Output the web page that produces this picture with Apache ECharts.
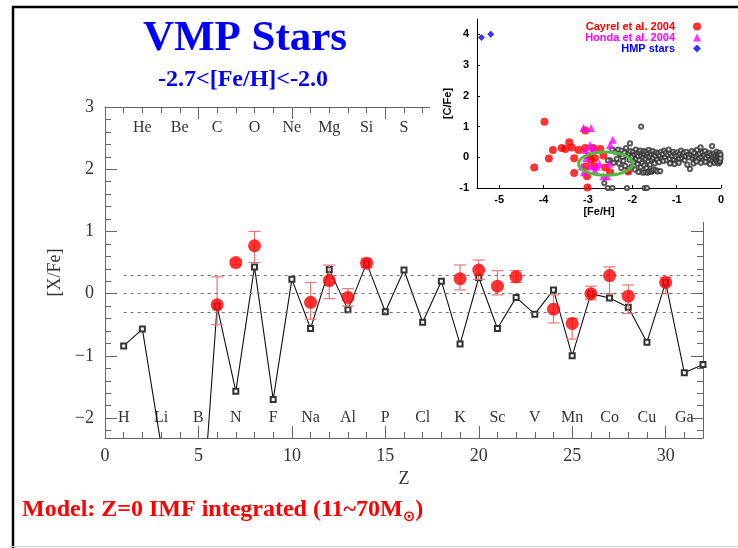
<!DOCTYPE html>
<html>
<head>
<meta charset="utf-8">
<title>VMP Stars</title>
<script src="https://cdn.jsdelivr.net/npm/echarts@6/dist/echarts.min.js"></script>
<style>
  html, body { margin: 0; padding: 0; background: #fff; }
  #chart { width: 738px; height: 548px; }
</style>
</head>
<body>
<div id="chart"></div>
<script>
// ---------- Main panel: [X/Fe] against atomic number Z ----------
// Z=0 IMF-integrated yields (11-70 Msun), one value per element
const modelZ   = [1, 2, 3, 4, 5, 6, 7, 8, 9, 10, 11, 12, 13, 14, 15, 16,
                  17, 18, 19, 20, 21, 22, 23, 24, 25, 26, 27, 28, 29, 30, 31, 32];
const modelXFe = [-0.84, -0.57, -2.43, -4.6, -4.4, -0.20, -1.57, 0.43, -1.70, 0.23, -0.56, 0.39, -0.26, 0.49, -0.29, 0.38,
                  -0.46, 0.20, -0.81, 0.26, -0.56, -0.06, -0.33, 0.06, -1.00, 0.00, -0.07, -0.22, -0.78, 0.18, -1.27, -1.14];

// Mean abundances of very metal-poor stars with their error ranges
const obsZ    = [6, 7, 8, 11, 12, 13, 14, 19, 20, 21, 22, 24, 25, 26, 27, 28, 30];
const obsXFe  = [-0.18, 0.50, 0.77, -0.14, 0.21, -0.06, 0.49, 0.24, 0.38, 0.12, 0.27, -0.25, -0.48, 0.00, 0.29, -0.04, 0.18];
const obsLow  = [-0.50, 0.46, 0.50, -0.41, -0.08, -0.20, 0.42, 0.06, 0.23, -0.02, 0.18, -0.47, -0.73, -0.10, 0.00, -0.32, 0.00];
const obsHigh = [0.27, 0.54, 1.00, 0.18, 0.46, 0.08, 0.56, 0.46, 0.54, 0.37, 0.37, -0.02, -0.40, 0.12, 0.43, 0.14, 0.26];

// Element symbols written along the top and bottom of the panel
const topElements    = ['He', 'Be', 'C', 'O', 'Ne', 'Mg', 'Si', 'S'];
const topElementZ    = [2, 4, 6, 8, 10, 12, 14, 16];
const bottomElements = ['H', 'Li', 'B', 'N', 'F', 'Na', 'Al', 'P', 'Cl', 'K', 'Sc', 'V', 'Mn', 'Co', 'Cu', 'Ga'];
const bottomElementZ = [1, 3, 5, 7, 9, 11, 13, 15, 17, 19, 21, 23, 25, 27, 29, 31];

// Dotted guide levels
const refLevels = [0.3, 0, -0.3];

// Tick values
const zTickValues   = [0, 5, 10, 15, 20, 25, 30];
const xfeTickValues = [-2, -1, 0, 1, 2, 3];

// ---------- Inset: [C/Fe] against [Fe/H] ----------
const cayrelFeH = [-4.21, -3.98, -3.88, -3.79, -3.59, -3.51, -3.42, -3.36, -3.31, -3.31, -3.21, -3.06, -3.06,
                   -3.01, -3.02, -3.05, -2.97, -2.88, -2.84, -2.85, -2.72, -2.65, -2.61, -2.50, -2.09, -2.93];
const cayrelCFe = [-0.33, 1.16, -0.04, 0.24, 0.30, 0.27, 0.49, 0.32, -0.03, -0.51, 0.24, 0.30, 0.87,
                   -0.98, -0.62, -0.30, 0.03, 0.30, -0.03, -0.30, 0.27, 0.06, -0.33, -0.49, -0.46, -0.10];

const hondaFeH = [-3.10, -2.93, -3.06, -2.95, -2.88, -3.04, -2.94, -2.80, -2.84, -3.09, -2.74, -2.65, -2.57, -2.52, -2.50, -2.44, -3.14];
const hondaCFe = [0.95, 0.95, 0.24, 0.40, 0.30, -0.03, -0.30, -0.30, -0.43, -0.49, -0.21, -0.62, -0.62, -0.21, 0.40, 0.57, -0.30];

const hmpFeH = [-5.40, -5.19];
const hmpCFe = [3.90, 4.00];

// Other halo stars, [Fe/H], [C/Fe]
const otherStars = [
  [-2.38, 0.18], [-2.35, -0.05], [-2.32, 0.25], [-2.30, -0.20], [-2.28, 0.10], [-2.25, -0.35], [-2.24, 0.22],
  [-2.22, 0.00], [-2.20, -0.12], [-2.18, 0.15], [-2.16, -0.28], [-2.14, 0.30], [-2.12, 0.05], [-2.10, -0.45],
  [-2.08, 0.12], [-2.06, -0.08], [-2.05, 0.45], [-2.04, 0.20], [-2.02, -0.30], [-2.00, 0.02], [-1.98, 0.18],
  [-1.97, -0.15], [-1.95, 0.08], [-1.94, -0.40], [-1.92, 0.25], [-1.91, -0.05], [-1.90, 0.12], [-1.88, -0.22],
  [-1.87, 0.04], [-1.86, -0.48], [-1.85, 0.16], [-1.84, -0.10], [-1.82, 0.22], [-1.81, -0.32], [-1.80, 1.00],
  [-1.80, 0.06], [-1.78, -0.18], [-1.77, 0.14], [-1.76, -0.50], [-1.75, 0.00], [-1.74, 0.20], [-1.73, -0.26],
  [-1.72, 0.10], [-1.71, -0.48], [-1.70, -0.06], [-1.69, 0.18], [-1.68, -0.35], [-1.67, 0.05], [-1.66, -0.50],
  [-1.65, 0.12], [-1.64, -0.14], [-1.63, 0.24], [-1.62, -0.46], [-1.61, 0.02], [-1.60, -0.24], [-1.59, 0.15],
  [-1.58, -0.48], [-1.57, 0.08], [-1.56, -0.10], [-1.55, -0.44], [-1.54, 0.20], [-1.53, -0.02], [-1.52, -0.40],
  [-1.51, 0.10], [-1.50, -0.20], [-1.48, 0.05], [-1.47, -0.42], [-1.46, 0.16], [-1.44, -0.08], [-1.43, -0.46],
  [-1.42, 0.12], [-1.40, -0.16], [-1.38, 0.06], [-1.37, -0.45], [-1.35, 0.18], [-1.33, -0.04], [-1.31, 0.10],
  [-1.30, -0.12], [-1.28, 0.22], [-1.26, 0.00], [-1.24, 0.14], [-1.22, -0.10], [-1.20, 0.08], [-1.18, 0.25],
  [-1.16, -0.05], [-1.14, 0.12], [-1.12, -0.18], [-1.10, 0.04], [-1.08, 0.18], [-1.06, -0.08], [-1.04, 0.10],
  [-1.02, 0.02], [-1.00, -0.14], [-0.98, 0.16], [-0.96, 0.06], [-0.94, -0.06], [-0.92, 0.12], [-0.90, 0.22],
  [-0.88, -0.02], [-0.86, 0.08], [-0.84, 0.14], [-0.82, -0.10], [-0.80, 0.04], [-0.78, 0.18], [-0.76, -0.24],
  [-0.74, 0.08], [-0.72, 0.00], [-0.70, -0.38], [-0.68, 0.10], [-0.66, 0.20], [-0.64, -0.04], [-0.62, 0.06],
  [-0.60, 0.14], [-0.58, -0.12], [-0.56, 0.02], [-0.54, 0.24], [-0.52, 0.08], [-0.50, -0.06], [-0.48, 0.12],
  [-0.46, 0.32], [-0.44, 0.00], [-0.42, 0.16], [-0.40, -0.10], [-0.38, 0.06], [-0.36, 0.20], [-0.34, -0.02],
  [-0.32, 0.10], [-0.30, -0.14], [-0.28, 0.04], [-0.26, 0.14], [-0.24, -0.08], [-0.22, 0.08], [-0.20, 0.36],
  [-0.19, -0.12], [-0.18, 0.02], [-0.16, 0.12], [-0.15, -0.18], [-0.14, -0.04], [-0.12, 0.06], [-0.11, -0.10],
  [-0.10, 0.18], [-0.09, -0.14], [-0.08, 0.00], [-0.07, 0.10], [-0.06, -0.20], [-0.05, 0.04], [-0.04, -0.08],
  [-0.03, 0.14], [-0.03, -0.16], [-0.02, 0.02], [-0.02, -0.12], [-0.01, 0.08], [-0.01, -0.04], [-0.45, -0.18],
  [-0.62, -0.20], [-0.35, -0.15], [-0.25, -0.22], [-0.55, -0.14], [-1.05, -0.22], [-0.95, -0.18], [-1.15, -0.20],
  [-2.55, -1.00], [-2.45, -1.00], [-2.12, -1.00], [-1.72, -1.00], [-1.67, -1.00], [-2.63, -0.84], [-2.50, -0.10],
  [-2.45, 0.25], [-2.42, -0.18], [-2.55, -0.10]
];

// Highlighted region: centre [Fe/H], centre [C/Fe], half-width, half-height (data units)
const highlightRegion = [-2.6, -0.21, 0.61, 0.38];

const insetXTicks = [-5, -4, -3, -2, -1, 0];
const insetYTicks = [-1, 0, 1, 2, 3, 4];

// ---------- helpers ----------
const SERIF = "'Liberation Serif', 'DejaVu Serif', serif";
const SANS = "'Liberation Sans', Arial, sans-serif";
const FRAME = '#666';

function range(a, b, step) {
  const out = [];
  for (let v = a; v <= b + 1e-9; v += step) out.push(Math.round(v * 100) / 100);
  return out;
}
const zMinorTicks = range(0, 32, 1);
const xfeMinorTicks = range(-2.2, 3, 0.2);

const minusFmt = v => (v < 0 ? '\u2212' + Math.abs(v) : String(v));
const pairs = (xs, ys) => xs.map((x, i) => [x, ys[i]]);

function mainX(position, ticks, len, withLabels, withLine) {
  return {
    gridIndex: 0, type: 'value', min: 0, max: 32, position,
    axisLine: { show: withLine, onZero: false, lineStyle: { color: FRAME, width: 1 } },
    axisTick: { show: true, inside: true, length: len, customValues: ticks, lineStyle: { color: FRAME, width: 1 } },
    axisLabel: withLabels
      ? { show: true, customValues: zTickValues, fontFamily: SERIF, fontSize: 18, color: '#333', margin: 9 }
      : { show: false },
    splitLine: { show: false },
    axisPointer: { show: false }
  };
}
function mainY(position, ticks, len, withLabels, withLine) {
  return {
    gridIndex: 0, type: 'value', min: -2.32, max: 3, position,
    axisLine: { show: withLine, onZero: false, lineStyle: { color: FRAME, width: 1 } },
    axisTick: { show: true, inside: true, length: len, customValues: ticks, lineStyle: { color: FRAME, width: 1 } },
    axisLabel: withLabels
      ? { show: true, customValues: xfeTickValues, formatter: minusFmt, fontFamily: SERIF, fontSize: 18, color: '#333', margin: 11 }
      : { show: false },
    splitLine: { show: false }
  };
}

const xAxes = [
  Object.assign(mainX('bottom', zTickValues, 12, true, true), {
    name: 'Z', nameLocation: 'middle', nameGap: 32,
    nameTextStyle: { fontFamily: SERIF, fontSize: 18, color: '#333' }
  }),
  mainX('bottom', zMinorTicks, 6, false, false),
  mainX('top', zTickValues, 12, false, true),
  mainX('top', zMinorTicks, 6, false, false),
  {
    gridIndex: 1, type: 'value', min: -5.5, max: 0, position: 'bottom', z: 10,
    axisLine: { show: true, onZero: false, lineStyle: { color: '#000', width: 1 } },
    axisTick: { show: true, inside: true, length: 3, customValues: insetXTicks, lineStyle: { color: '#000' } },
    axisLabel: { customValues: insetXTicks, fontFamily: SANS, fontWeight: 'bold', fontSize: 11, color: '#000', margin: 6 },
    splitLine: { show: false },
    name: '[Fe/H]', nameLocation: 'middle', nameGap: 18,
    nameTextStyle: { fontFamily: SANS, fontWeight: 'bold', fontSize: 11, color: '#000' }
  }
];

const yAxes = [
  Object.assign(mainY('left', xfeTickValues, 12, true, true), {
    name: '[X/Fe]', nameLocation: 'middle', nameGap: 32, nameRotate: 90,
    nameTextStyle: { fontFamily: SERIF, fontSize: 18, color: '#333' }
  }),
  mainY('left', xfeMinorTicks, 6, false, false),
  mainY('right', xfeTickValues, 12, false, true),
  mainY('right', xfeMinorTicks, 6, false, false),
  {
    gridIndex: 1, type: 'value', min: -1, max: 4.5, position: 'left', z: 10,
    axisLine: { show: true, onZero: false, lineStyle: { color: '#000', width: 1 } },
    axisTick: { show: true, inside: true, length: 3, customValues: insetYTicks, lineStyle: { color: '#000' } },
    axisLabel: { customValues: insetYTicks, fontFamily: SANS, fontWeight: 'bold', fontSize: 11, color: '#000', margin: 8 },
    splitLine: { show: false },
    name: '[C/Fe]', nameLocation: 'middle', nameGap: 24, nameRotate: 90,
    nameTextStyle: { fontFamily: SANS, fontWeight: 'bold', fontSize: 11, color: '#000' }
  }
];

// element symbols drawn as text at data positions
function elementLabels(names, zs, row) {
  return {
    type: 'custom', xAxisIndex: 0, yAxisIndex: 0, z: 3, silent: true,
    data: zs.map((z, i) => [z, row, names[i]]),
    renderItem: (params, api) => {
      const p = api.coord([api.value(0), api.value(1)]);
      return {
        type: 'text', x: p[0], y: p[1],
        style: { text: names[params.dataIndex], fontFamily: SERIF, fontSize: 16, fill: '#333',
                 align: 'center', verticalAlign: 'middle' }
      };
    }
  };
}

function legendFor(name, color, icon, top) {
  return {
    data: [{ name, icon, textStyle: { color } }],
    right: 37, top, orient: 'vertical', align: 'right', padding: 0,
    itemWidth: 8, itemHeight: 8, selectedMode: false, z: 20,
    textStyle: { fontFamily: SANS, fontWeight: 'bold', fontSize: 11, padding: [0, 13, 0, 0] }
  };
}

const chart = echarts.init(document.getElementById('chart'), null, { renderer: 'canvas' });

chart.setOption({
  animation: false,
  backgroundColor: '#fff',
  grid: [
    { left: 105, top: 107, right: 35, bottom: 110 },
    { left: 477, top: 19, right: 17, bottom: 360, z: 10 }
  ],
  xAxis: xAxes,
  yAxis: yAxes,
  legend: [
    legendFor('Cayrel et al. 2004', '#ff0000', 'circle', 21),
    legendFor('Honda et al. 2004', '#ff00ff', 'triangle', 32),
    legendFor('HMP stars', '#0000ff', 'diamond', 43)
  ],
  graphic: [
    // inset background
    { type: 'rect', z: 6, shape: { x: 430, y: 10, width: 308, height: 212 }, style: { fill: '#fff' } },
    // page frame
    { type: 'line', z: 30, shape: { x1: 12, y1: 7, x2: 738, y2: 7 }, style: { stroke: '#000', lineWidth: 2.5 } },
    { type: 'line', z: 30, shape: { x1: 13, y1: 6, x2: 13, y2: 548 }, style: { stroke: '#000', lineWidth: 2.5 } },
    { type: 'line', z: 30, shape: { x1: 12, y1: 546.5, x2: 738, y2: 546.5 }, style: { stroke: '#ccc', lineWidth: 1 } },
    // headings
    { type: 'text', z: 30, x: 245, y: 39,
      style: { text: 'VMP Stars', fontFamily: SERIF, fontWeight: 'bold', fontSize: 43, fill: '#0000ff',
               align: 'center', verticalAlign: 'middle' } },
    { type: 'text', z: 30, x: 243, y: 80,
      style: { text: '-2.7<[Fe/H]<-2.0', fontFamily: SERIF, fontWeight: 'bold', fontSize: 24, fill: '#0000ff',
               align: 'center', verticalAlign: 'middle' } },
    { type: 'text', z: 30, x: 22, y: 510,
      style: {
        text: '{a|Model: Z=0 IMF integrated (11~70M}{s|\u2299}{a|)}',
        align: 'left', verticalAlign: 'middle',
        rich: {
          a: { fontFamily: SERIF, fontWeight: 'bold', fontSize: 24, fill: '#ff0000' },
          s: { fontFamily: "'DejaVu Sans', sans-serif", fontWeight: 'bold', fontSize: 15, fill: '#ff0000', padding: [14, 0, 0, 0] }
        }
      } }
  ],
  series: [
    // model pattern
    {
      name: 'Model', type: 'line', xAxisIndex: 0, yAxisIndex: 0, z: 3, clip: true,
      data: pairs(modelZ, modelXFe),
      symbol: 'emptyRect', symbolSize: 5, showSymbol: true, showAllSymbol: true,
      lineStyle: { color: '#111', width: 1.1 },
      itemStyle: { color: '#333', borderWidth: 1 },
      markLine: {
        silent: true, symbol: 'none', label: { show: false },
        lineStyle: { color: '#6f6f6f', type: [3, 4], width: 1 },
        data: refLevels.map(v => [{ coord: [1, v] }, { coord: [32, v] }])
      }
    },
    // error ranges
    {
      type: 'custom', xAxisIndex: 0, yAxisIndex: 0, z: 4, silent: true,
      data: obsZ.map((z, i) => [z, obsLow[i], obsHigh[i]]),
      renderItem: (params, api) => {
        const lo = api.coord([api.value(0), api.value(1)]);
        const hi = api.coord([api.value(0), api.value(2)]);
        const hw = 6;
        const st = { stroke: '#e87878', lineWidth: 1.2 };
        return {
          type: 'group',
          children: [
            { type: 'line', shape: { x1: lo[0], y1: lo[1], x2: hi[0], y2: hi[1] }, style: st },
            { type: 'line', shape: { x1: lo[0] - hw, y1: lo[1], x2: lo[0] + hw, y2: lo[1] }, style: st },
            { type: 'line', shape: { x1: hi[0] - hw, y1: hi[1], x2: hi[0] + hw, y2: hi[1] }, style: st }
          ]
        };
      }
    },
    // observed means
    {
      name: 'VMP', type: 'scatter', xAxisIndex: 0, yAxisIndex: 0, z: 5,
      data: pairs(obsZ, obsXFe), symbol: 'circle', symbolSize: 13,
      itemStyle: { color: '#ff0000' }
    },
    elementLabels(topElements, topElementZ, 2.67),
    elementLabels(bottomElements, bottomElementZ, -2.0),

    // inset
    {
      name: 'Halo stars', type: 'scatter', xAxisIndex: 4, yAxisIndex: 4, z: 12,
      data: otherStars, symbol: 'emptyCircle', symbolSize: 4.2,
      itemStyle: { color: '#333', borderColor: '#333', borderWidth: 0.6 }
    },
    {
      name: 'Cayrel et al. 2004', type: 'scatter', xAxisIndex: 4, yAxisIndex: 4, z: 13,
      data: pairs(cayrelFeH, cayrelCFe), symbol: 'circle', symbolSize: 8,
      itemStyle: { color: '#ff0000' }
    },
    {
      name: 'Honda et al. 2004', type: 'scatter', xAxisIndex: 4, yAxisIndex: 4, z: 14,
      data: pairs(hondaFeH, hondaCFe), symbol: 'triangle', symbolSize: 8,
      itemStyle: { color: '#ff00ff' }
    },
    {
      name: 'HMP stars', type: 'scatter', xAxisIndex: 4, yAxisIndex: 4, z: 14,
      data: pairs(hmpFeH, hmpCFe), symbol: 'diamond', symbolSize: 7,
      itemStyle: { color: '#0000ff' }
    },
    {
      type: 'custom', xAxisIndex: 4, yAxisIndex: 4, z: 15, silent: true,
      data: [highlightRegion],
      renderItem: (params, api) => {
        const c = api.coord([api.value(0), api.value(1)]);
        const s = api.size([api.value(2), api.value(3)]);
        return {
          type: 'ellipse',
          shape: { cx: c[0], cy: c[1], rx: s[0], ry: s[1] },
          style: { fill: 'none', stroke: '#4cbb3f', lineWidth: 3 }
        };
      }
    }
  ]
});
</script>
</body>
</html>
